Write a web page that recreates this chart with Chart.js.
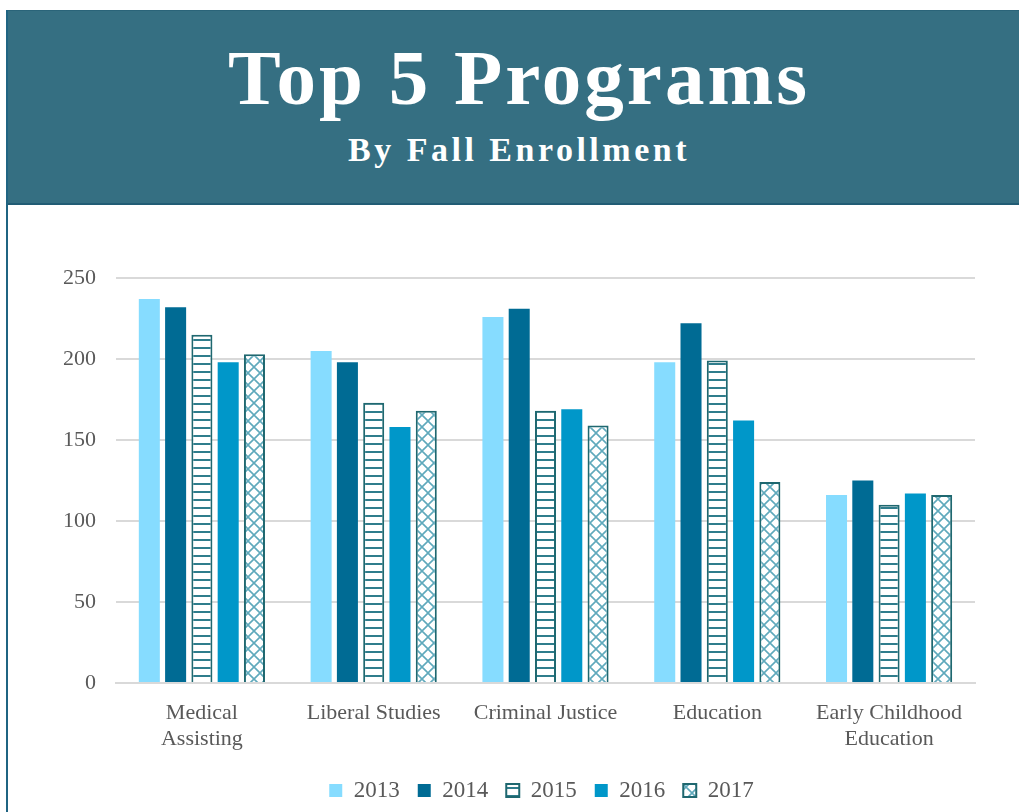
<!DOCTYPE html>
<html>
<head>
<meta charset="utf-8">
<script src="https://cdn.jsdelivr.net/npm/chart.js@4/dist/chart.umd.min.js"></script>
<style>
  html, body { margin: 0; padding: 0; background: #fff; width: 1019px; height: 812px; overflow: hidden; }
  #page { position: absolute; left: 6px; top: 10px; width: 1030px; height: 820px; border-left: 2px solid #1f6482; }
  #header {
    position: absolute; left: 0; top: 0; width: 1030px; height: 192px;
    background: #356f82; border-top: 1px solid #2a6479; border-bottom: 2px solid #215c74;
    color: #fff; text-align: center; font-family: "Liberation Serif", "DejaVu Serif", serif; font-weight: bold;
  }
  #header .title { position: absolute; left: 0; width: 1022px; top: 22px; font-size: 79px; letter-spacing: 3px; line-height: 90px; }
  #header .sub { position: absolute; left: 0; width: 1022px; top: 119px; font-size: 34px; letter-spacing: 3.5px; line-height: 40px; }
  #chartBox { position: absolute; left: 8px; top: 205px; width: 1011px; height: 607px; }
</style>
</head>
<body>
<div id="page">
  <div id="header">
    <div class="title">Top 5 Programs</div>
    <div class="sub">By Fall Enrollment</div>
  </div>
</div>
<div id="chartBox"><canvas id="programsChart"></canvas></div>
<script>
// chart data
const programs = [["Medical", "Assisting"], "Liberal Studies", "Criminal Justice", "Education", ["Early Childhood", "Education"]];
const years = ["2013", "2014", "2015", "2016", "2017"];
const enroll2013 = [237, 205, 226, 198, 116];
const enroll2014 = [232, 198, 231, 222, 125];
const enroll2015 = [215, 173, 168, 199, 110];
const enroll2016 = [198, 158, 169, 162, 117];
const enroll2017 = [203, 168, 159, 124, 116];
const yTicks = [0, 50, 100, 150, 200, 250];

//pattern for 2015 bars (horizontal stripes)
function stripePattern(){
  const c = document.createElement("canvas");
  c.width = 8; c.height = 8;
  const g = c.getContext("2d");
  g.fillStyle = "#ffffff";
  g.fillRect(0, 0, 8, 8);
  g.fillStyle = "#2f7d8c";
  g.fillRect(0, 6, 8, 2);
  return g.createPattern(c, "repeat");
}

//pattern for 2017 bars (diagonal lattice)
function latticePattern(){
  const c = document.createElement("canvas");
  c.width = 12; c.height = 12;
  const g = c.getContext("2d");
  g.fillStyle = "#ffffff";
  g.fillRect(0, 0, 12, 12);
  g.strokeStyle = "#5fa9bc";
  g.lineWidth = 1.6;
  g.beginPath();
  g.moveTo(0, 0); g.lineTo(12, 12);
  g.moveTo(12, 0); g.lineTo(0, 12);
  g.stroke();
  return g.createPattern(c, "repeat");
}

const tickFont = { family: "'Liberation Serif', 'DejaVu Serif', serif", size: 22 };
const legendFont = { family: "'Liberation Serif', 'DejaVu Serif', serif", size: 23 };
const textGray = "#595959";

//legend in the original sits a bit right of the plot centre
const legendShift = {
  id: "legendShift",
  afterLayout(chart){
    chart.legend.left += 50;
    chart.legend.right += 50;
  }
};

const ctx = document.getElementById("programsChart").getContext("2d");

const programsChart = new Chart(ctx, {
  type: "bar",
  data: {
    labels: programs,
    datasets: [
      { label: years[0], data: enroll2013, backgroundColor: "#86dcff", borderWidth: 0 },
      { label: years[1], data: enroll2014, backgroundColor: "#006b94", borderWidth: 0 },
      { label: years[2], data: enroll2015, backgroundColor: stripePattern(), borderColor: "#1f6870", borderWidth: 2 },
      { label: years[3], data: enroll2016, backgroundColor: "#0097c9", borderWidth: 0 },
      { label: years[4], data: enroll2017, backgroundColor: latticePattern(), borderColor: "#1f6870", borderWidth: 2 }
    ]
  },
  plugins: [legendShift],
  options: {
    responsive: true,
    maintainAspectRatio: false,
    animation: false,
    datasets: {
      bar: { barPercentage: 0.8, categoryPercentage: 0.765 }
    },
    layout: { padding: { top: 73, right: 44, bottom: 0, left: 0 } },
    plugins: {
      tooltip: { enabled: false },
      legend: {
        position: "bottom",
        labels: {
          boxWidth: 13,
          boxHeight: 13,
          padding: 18,
          color: textGray,
          font: legendFont
        }
      }
    },
    scales: {
      x: {
        grid: { display: false, drawTicks: false },
        border: { display: true, color: "#d9d9d9", width: 2 },
        ticks: { color: textGray, font: tickFont, padding: 17, maxRotation: 0, autoSkip: false },
        afterFit: (scale) => { scale.height = 78; }
      },
      y: {
        min: 0,
        max: 250,
        afterBuildTicks: (scale) => { scale.ticks = yTicks.map(v => ({ value: v })); },
        grid: { color: "#d9d9d9", lineWidth: 2, drawTicks: false },
        border: { display: false },
        ticks: { color: textGray, font: tickFont, padding: 20 },
        afterFit: (scale) => { scale.width = 108; }
      }
    }
  }
});
</script>
</body>
</html>
